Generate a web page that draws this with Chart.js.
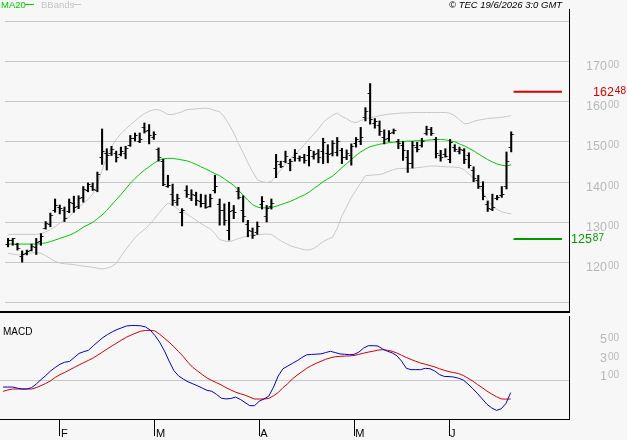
<!DOCTYPE html>
<html>
<head>
<meta charset="utf-8">
<script src="https://cdn.jsdelivr.net/npm/chart.js@4.4.1/dist/chart.umd.min.js"></script>
<style>
  html, body { margin: 0; padding: 0; background: #f7f7f7; }
  #wrap { position: relative; width: 627px; height: 440px; overflow: hidden; }
  canvas { position: absolute; left: 0; }
  #priceChart { top: 0; }
  #macdChart { top: 316px; }
</style>
</head>
<body>
<div id="wrap">
  <canvas id="priceChart" width="627" height="317"></canvas>
  <canvas id="macdChart" width="627" height="124"></canvas>
</div>
<script>
// daily bars from 15 Jan to 18 Jun, index 0 = first bar
var highs = [126.0,126.0,124.8,122.9,123.1,124.6,126.0,127.2,130.2,132.3,
  135.8,134.3,133.8,135.8,136.5,136.6,138.9,139.8,139.8,142.5,
  153.2,148.3,148.9,147.7,148.7,148.9,151.6,152.2,152.2,154.7,
  154.3,152.5,148.5,145.7,141.7,139.5,137.0,133.4,139.1,138.1,
  137.5,137.0,136.8,137.0,141.7,135.8,134.6,135.0,134.2,138.7,
  136.6,130.5,128.6,130.1,136.4,134.2,135.8,146.9,145.2,147.7,
  145.7,148.1,146.5,146.9,148.9,147.7,148.1,150.9,149.3,150.3,
  151.1,148.4,148.0,149.5,151.1,153.6,158.5,164.5,155.8,155.2,
  153.0,152.8,153.2,150.6,150.1,147.9,150.1,149.9,150.9,153.9,
  153.6,151.1,147.9,148.3,150.6,149.3,148.7,148.3,147.3,143.8,
  141.7,140.1,135.3,137.0,136.7,138.9,147.5,152.5];
var lows = [123.9,124.3,123.1,120.1,121.9,122.9,122.0,124.3,128.3,128.9,
  132.5,132.1,130.2,132.4,132.5,133.4,135.0,137.6,137.9,137.6,
  144.4,143.0,146.6,145.0,146.5,145.8,148.9,150.2,149.8,152.2,
  149.5,150.6,145.2,139.1,138.7,134.2,134.2,129.1,136.2,135.4,
  134.2,133.8,133.5,133.8,137.3,129.3,129.3,125.6,130.9,135.8,
  130.1,126.4,126.0,127.0,133.3,130.1,133.3,141.1,143.6,144.8,
  142.8,145.2,145.2,144.7,144.0,145.7,144.8,144.6,144.8,146.5,
  146.5,144.6,145.6,144.2,148.7,149.3,155.2,154.4,153.4,151.6,
  149.5,150.1,152.0,148.3,145.4,142.4,143.5,147.5,148.7,151.7,
  151.6,146.0,145.2,146.2,144.8,147.6,147.0,144.6,143.5,140.1,
  138.4,135.6,132.7,132.9,135.6,136.2,138.3,147.5];
var opens = [124.5,125.4,124.6,121.5,122.2,123.0,123.8,125.2,128.5,129.5,
  133.0,133.8,133.0,132.8,134.8,134.0,136.2,137.8,139.0,138.0,
  146.0,147.0,147.0,147.0,146.8,147.2,149.2,150.8,150.2,153.5,
  152.8,151.0,148.2,145.2,139.0,137.0,135.0,132.5,137.8,136.0,
  136.6,135.2,134.6,134.0,138.0,134.5,133.0,128.0,133.0,137.6,
  133.0,129.5,127.8,127.5,134.5,131.5,134.0,143.5,144.4,145.2,
  144.5,146.0,145.8,146.2,146.6,146.4,147.0,147.5,147.2,147.0,
  147.4,147.8,146.2,146.5,149.5,150.0,156.0,162.0,154.5,154.0,
  151.0,150.8,152.4,150.2,149.0,146.0,144.5,148.6,149.0,152.0,
  153.0,150.5,146.5,146.8,145.5,148.6,147.6,147.8,146.5,143.0,
  140.5,139.0,134.5,133.2,135.8,136.6,139.0,148.5];
var closes = [125.4,125.9,123.5,122.0,122.8,124.0,125.0,126.6,129.8,131.6,
  134.2,133.5,131.0,135.0,133.6,136.0,138.2,139.4,138.2,142.0,
  147.6,146.5,148.0,146.0,147.5,148.4,150.8,151.5,150.6,152.6,
  151.5,151.8,146.0,139.5,139.2,135.5,136.0,133.0,136.8,136.8,
  135.5,134.8,133.8,135.8,139.0,133.0,130.5,132.8,132.5,136.2,
  131.5,128.0,126.8,129.0,135.2,133.5,134.6,145.0,144.0,146.4,
  145.0,147.0,146.0,145.4,147.8,146.8,146.2,149.8,146.8,149.5,
  150.2,146.0,147.0,148.8,150.5,151.2,157.5,155.5,155.0,152.6,
  150.5,152.0,152.8,149.5,147.8,144.5,149.2,148.0,150.2,153.2,
  152.2,147.0,146.0,146.4,149.8,148.2,148.0,145.5,144.2,141.0,
  139.0,136.5,133.5,133.8,136.2,137.0,145.0,151.8];
var ma20 = [124.6,124.6,124.6,124.6,124.6,124.6,124.6,124.7,124.9,125.2,
  125.6,126.0,126.4,126.8,127.3,128.0,128.8,129.4,130.0,130.9,
  131.8,133.0,134.3,135.6,136.9,138.3,139.7,140.9,142.0,143.0,
  143.8,144.7,145.4,145.8,145.9,145.9,145.7,145.5,145.3,144.9,
  144.4,143.8,143.3,142.7,142.1,141.6,140.8,140.0,139.2,138.0,
  136.7,135.5,134.4,133.8,133.6,133.6,133.7,134.0,134.4,134.8,
  135.2,135.7,136.3,136.8,137.5,138.4,139.2,140.1,140.8,141.5,
  142.5,143.6,144.6,145.6,146.6,147.5,148.2,148.8,149.1,149.4,
  149.6,149.8,149.9,150.0,150.1,150.2,150.2,150.3,150.3,150.4,
  150.5,150.6,150.6,150.5,150.3,150.0,149.5,149.0,148.4,147.8,
  147.0,146.3,145.6,145.0,144.5,144.2,144.0,144.3];
var bbUpper = [127.0,127.0,127.0,127.0,127.0,127.0,127.0,127.2,127.6,128.2,
  128.9,129.8,130.7,131.4,132.6,133.7,134.7,135.7,137.0,139.5,
  143.0,146.3,148.8,150.6,152.0,153.2,154.2,155.2,156.2,157.0,
  157.6,158.0,158.0,157.5,156.8,156.8,157.1,157.5,158.0,158.1,
  158.2,158.3,158.4,158.2,157.8,157.5,156.2,154.3,152.2,149.6,
  147.3,144.8,142.6,140.6,140.1,139.9,140.2,141.6,143.0,144.5,
  145.8,147.0,148.0,149.3,150.6,151.9,153.2,154.8,155.8,156.6,
  157.2,156.3,155.8,155.0,154.8,155.3,155.7,156.0,156.2,156.5,
  156.7,156.9,157.0,157.1,157.2,157.2,157.3,157.3,157.3,157.3,
  157.3,157.3,157.3,157.3,157.1,156.5,155.5,154.5,154.6,155.1,
  155.4,155.6,155.8,155.9,156.0,156.1,156.3,156.5];
var bbLower = [122.3,122.1,121.9,122.0,122.2,122.4,122.5,122.3,121.7,121.0,
  120.3,119.9,119.7,119.6,119.5,119.3,119.1,119.0,118.8,118.6,
  118.4,118.6,119.0,119.8,121.5,123.2,124.7,126.2,127.3,128.2,
  129.3,130.7,132.2,133.6,134.8,134.3,133.4,132.6,132.1,131.3,
  130.5,129.7,129.0,128.4,127.2,125.7,125.4,125.2,125.5,126.0,
  126.3,126.6,126.8,126.9,127.0,127.1,127.0,126.2,125.4,124.8,
  124.2,123.8,123.5,123.2,123.1,123.5,124.3,125.2,125.8,126.3,
  128.5,131.6,133.8,136.2,138.0,139.8,141.6,141.7,141.8,141.9,
  142.2,142.7,143.1,143.4,143.4,143.4,143.4,143.6,143.7,143.9,
  144.0,144.0,143.9,143.8,143.8,143.7,143.6,143.1,142.0,141.0,
  139.3,137.4,135.6,134.0,133.2,132.6,132.3,132.1];
var macd = [-0.78,-0.78,-0.78,-0.9,-1.0,-1.0,-0.85,-0.45,0.05,0.5,
  1.0,1.4,1.75,1.98,2.06,2.5,2.95,3.15,3.3,3.8,
  4.25,4.7,5.05,5.35,5.6,5.8,6.0,6.05,6.05,6.02,
  5.9,5.55,4.95,4.2,3.25,2.1,1.05,0.45,0.1,-0.2,
  -0.42,-0.65,-0.9,-1.15,-1.25,-1.6,-2.02,-2.1,-2.05,-1.9,
  -2.15,-2.5,-2.85,-2.85,-2.35,-2.1,-1.8,-0.8,0.45,1.25,
  1.55,1.85,2.15,2.5,2.8,2.84,2.87,2.9,3.05,3.19,
  3.05,2.9,2.86,2.82,2.85,3.1,3.55,3.81,3.81,3.78,
  3.45,3.2,3.02,2.7,2.1,1.3,1.15,1.15,1.15,1.3,
  1.25,1.0,0.6,0.4,0.38,0.33,0.2,0.0,-0.45,-0.95,
  -1.5,-2.1,-2.7,-3.1,-3.37,-3.2,-2.6,-1.4];
var signal = [-1.26,-1.1,-1.0,-1.0,-1.0,-1.0,-1.0,-0.85,-0.62,-0.38,
  -0.1,0.3,0.6,0.85,1.12,1.4,1.67,1.93,2.18,2.45,
  2.78,3.12,3.47,3.8,4.12,4.45,4.75,5.0,5.22,5.42,
  5.5,5.52,5.45,5.08,4.65,4.2,3.7,3.15,2.6,1.95,
  1.4,1.0,0.6,0.22,-0.05,-0.3,-0.55,-0.85,-1.1,-1.35,
  -1.52,-1.68,-1.9,-2.11,-2.11,-2.11,-2.05,-1.75,-1.4,-0.85,
  -0.4,0.12,0.55,0.92,1.3,1.6,1.85,2.08,2.3,2.46,
  2.58,2.63,2.66,2.68,2.72,2.85,2.98,3.1,3.2,3.32,
  3.37,3.3,3.2,3.0,2.75,2.5,2.28,2.08,1.89,1.75,
  1.6,1.45,1.25,1.08,0.93,0.82,0.72,0.5,0.2,-0.12,
  -0.5,-0.85,-1.23,-1.55,-1.85,-2.1,-2.12,-2.11];

var monthTicks = [12, 32, 54, 74, 94];
var monthNames = ['F', 'M', 'A', 'M', 'J'];
var priceGrid = [110, 120, 130, 140, 150, 160, 170, 180];
var priceLabels = [120, 130, 140, 150, 160, 170];
var macdLabels = [1, 3, 5];
var resistance = 162.48;
var support = 125.87;

var xMin = -0.647, xMax = 119.29;
var FONT = '"Liberation Sans", Arial, sans-serif';
Chart.defaults.font.family = FONT;

function toPoints(arr) {
  return arr.map(function(v, i) { return {x: i, y: v}; });
}

function tickImage(left) {
  var c = document.createElement('canvas');
  c.width = 8; c.height = 1;
  var g = c.getContext('2d');
  g.fillStyle = '#000';
  g.fillRect(left ? 1.5 : 4.5, 0, 2, 1);
  return c;
}

// "170" + small "00", like the original axis
function supLabel(ctx, main, sup, left, right, base, color) {
  ctx.fillStyle = color;
  ctx.textBaseline = 'alphabetic';
  ctx.textAlign = 'left';
  ctx.font = '12.5px ' + FONT;
  var w1 = ctx.measureText(main).width;
  ctx.font = '10px ' + FONT;
  var w2 = ctx.measureText(sup).width;
  var x = left != null ? left : right - w1 - 1 - w2;
  ctx.font = '12.5px ' + FONT;
  ctx.fillText(main, x, base);
  ctx.font = '10px ' + FONT;
  ctx.fillText(sup, x + w1 + 1, base - 2);
}

function splitPrice(v) {
  return v.toFixed(2).split('.');
}

var priceDecor = {
  id: 'priceDecor',
  afterDraw: function(chart) {
    var ctx = chart.ctx, a = chart.chartArea, y = chart.scales.y;
    ctx.save();
    ctx.fillStyle = '#000';
    ctx.fillRect(0, a.bottom - 1, a.right + 1, 2);

    ctx.textBaseline = 'alphabetic';
    ctx.font = '9.5px ' + FONT;
    ctx.fillStyle = '#00cc00';
    ctx.fillText('MA20', 1, 8);
    ctx.fillRect(25, 4, 9, 1);
    ctx.fillStyle = '#c4c4c4';
    ctx.fillText('BBands', 41, 8);
    ctx.fillRect(73, 4, 8, 1);
    ctx.font = 'italic 9.5px ' + FONT;
    ctx.fillStyle = '#000';
    ctx.fillText('\u00a9 TEC 19/6/2026 3:0 GMT', 449, 7.5);

    priceLabels.forEach(function(v) {
      supLabel(ctx, String(v), '00', null, 619, y.getPixelForValue(v) + 8.5, '#b8b8b8');
    });
    var r = splitPrice(resistance), s = splitPrice(support);
    supLabel(ctx, r[0], r[1], 593, null, y.getPixelForValue(resistance) + 4.2, '#d80000');
    supLabel(ctx, s[0], s[1], 571, null, y.getPixelForValue(support) + 4.5, '#009a00');
    ctx.restore();
  }
};

var macdDecor = {
  id: 'macdDecor',
  afterDraw: function(chart) {
    var ctx = chart.ctx, y = chart.scales.y;
    ctx.save();
    ctx.font = '10px ' + FONT;
    ctx.fillStyle = '#000';
    ctx.textBaseline = 'alphabetic';
    ctx.fillText('MACD', 3, 19);
    macdLabels.forEach(function(v) {
      supLabel(ctx, String(v), '00', null, 619, y.getPixelForValue(v) + 8.5, '#b8b8b8');
    });
    ctx.restore();
  }
};

var lastX = closes.length - 0.5;

new Chart(document.getElementById('priceChart'), {
  type: 'bar',
  data: {
    datasets: [
      {type: 'bar', data: highs.map(function(h, i) { return {x: i, y: [lows[i], h]}; }),
       backgroundColor: '#000', borderWidth: 0, barThickness: 1.4, order: 1},
      {type: 'line', data: toPoints(opens), showLine: false, pointStyle: tickImage(true), pointRadius: 3, order: 0},
      {type: 'line', data: toPoints(closes), showLine: false, pointStyle: tickImage(false), pointRadius: 3, order: 0},
      {type: 'line', data: toPoints(ma20), borderColor: '#00c800', borderWidth: 1, pointRadius: 0, order: 3},
      {type: 'line', data: toPoints(bbUpper), borderColor: '#c8c8c8', borderWidth: 1, pointRadius: 0, order: 4},
      {type: 'line', data: toPoints(bbLower), borderColor: '#c8c8c8', borderWidth: 1, pointRadius: 0, order: 4},
      {type: 'line', data: [{x: lastX, y: resistance}, {x: xMax - 1.5, y: resistance}],
       borderColor: '#d80000', borderWidth: 2, pointRadius: 0, order: 2},
      {type: 'line', data: [{x: lastX, y: support}, {x: xMax - 1.5, y: support}],
       borderColor: '#009a00', borderWidth: 2, pointRadius: 0, order: 2}
    ]
  },
  options: {
    responsive: false,
    animation: false,
    events: [],
    layout: {padding: {top: 9, bottom: 2, left: 0, right: 0}},
    plugins: {legend: {display: false}, tooltip: {enabled: false}},
    scales: {
      x: {type: 'linear', min: xMin, max: xMax, display: false, offset: false},
      y: {
        position: 'right', min: 107.71, max: 183.03,
        afterFit: function(s) { s.width = 58; },
        afterBuildTicks: function(s) { s.ticks = priceGrid.map(function(v) { return {value: v}; }); },
        ticks: {display: false},
        grid: {color: '#c8c8c8', drawTicks: false},
        border: {color: '#000', width: 1}
      }
    }
  },
  plugins: [priceDecor]
});

new Chart(document.getElementById('macdChart'), {
  type: 'line',
  data: {
    datasets: [
      {data: toPoints(macd), borderColor: '#0000d0', borderWidth: 1, pointRadius: 0},
      {data: toPoints(signal), borderColor: '#d00000', borderWidth: 1, pointRadius: 0}
    ]
  },
  options: {
    responsive: false,
    animation: false,
    events: [],
    layout: {padding: 0},
    plugins: {legend: {display: false}, tooltip: {enabled: false}},
    scales: {
      x: {
        type: 'linear', min: xMin, max: xMax, position: 'bottom',
        afterFit: function(s) { s.height = 21; },
        afterBuildTicks: function(s) { s.ticks = monthTicks.map(function(v) { return {value: v}; }); },
        ticks: {
          callback: function(v, i) { return monthNames[i]; },
          autoSkip: false, maxRotation: 0, align: 'start', labelOffset: 1, padding: -9,
          color: '#000', font: {size: 11}
        },
        grid: {drawOnChartArea: false, drawTicks: true, tickLength: 17, tickColor: '#000', tickWidth: 1},
        border: {color: '#000', width: 1}
      },
      y: {
        position: 'right', min: -4.33, max: 7.11,
        afterFit: function(s) { s.width = 58; },
        afterBuildTicks: function(s) { s.ticks = [{value: 0}]; },
        ticks: {display: false},
        grid: {color: '#c8c8c8', drawTicks: false},
        border: {color: '#000', width: 1}
      }
    }
  },
  plugins: [macdDecor]
});
</script>
</body>
</html>
